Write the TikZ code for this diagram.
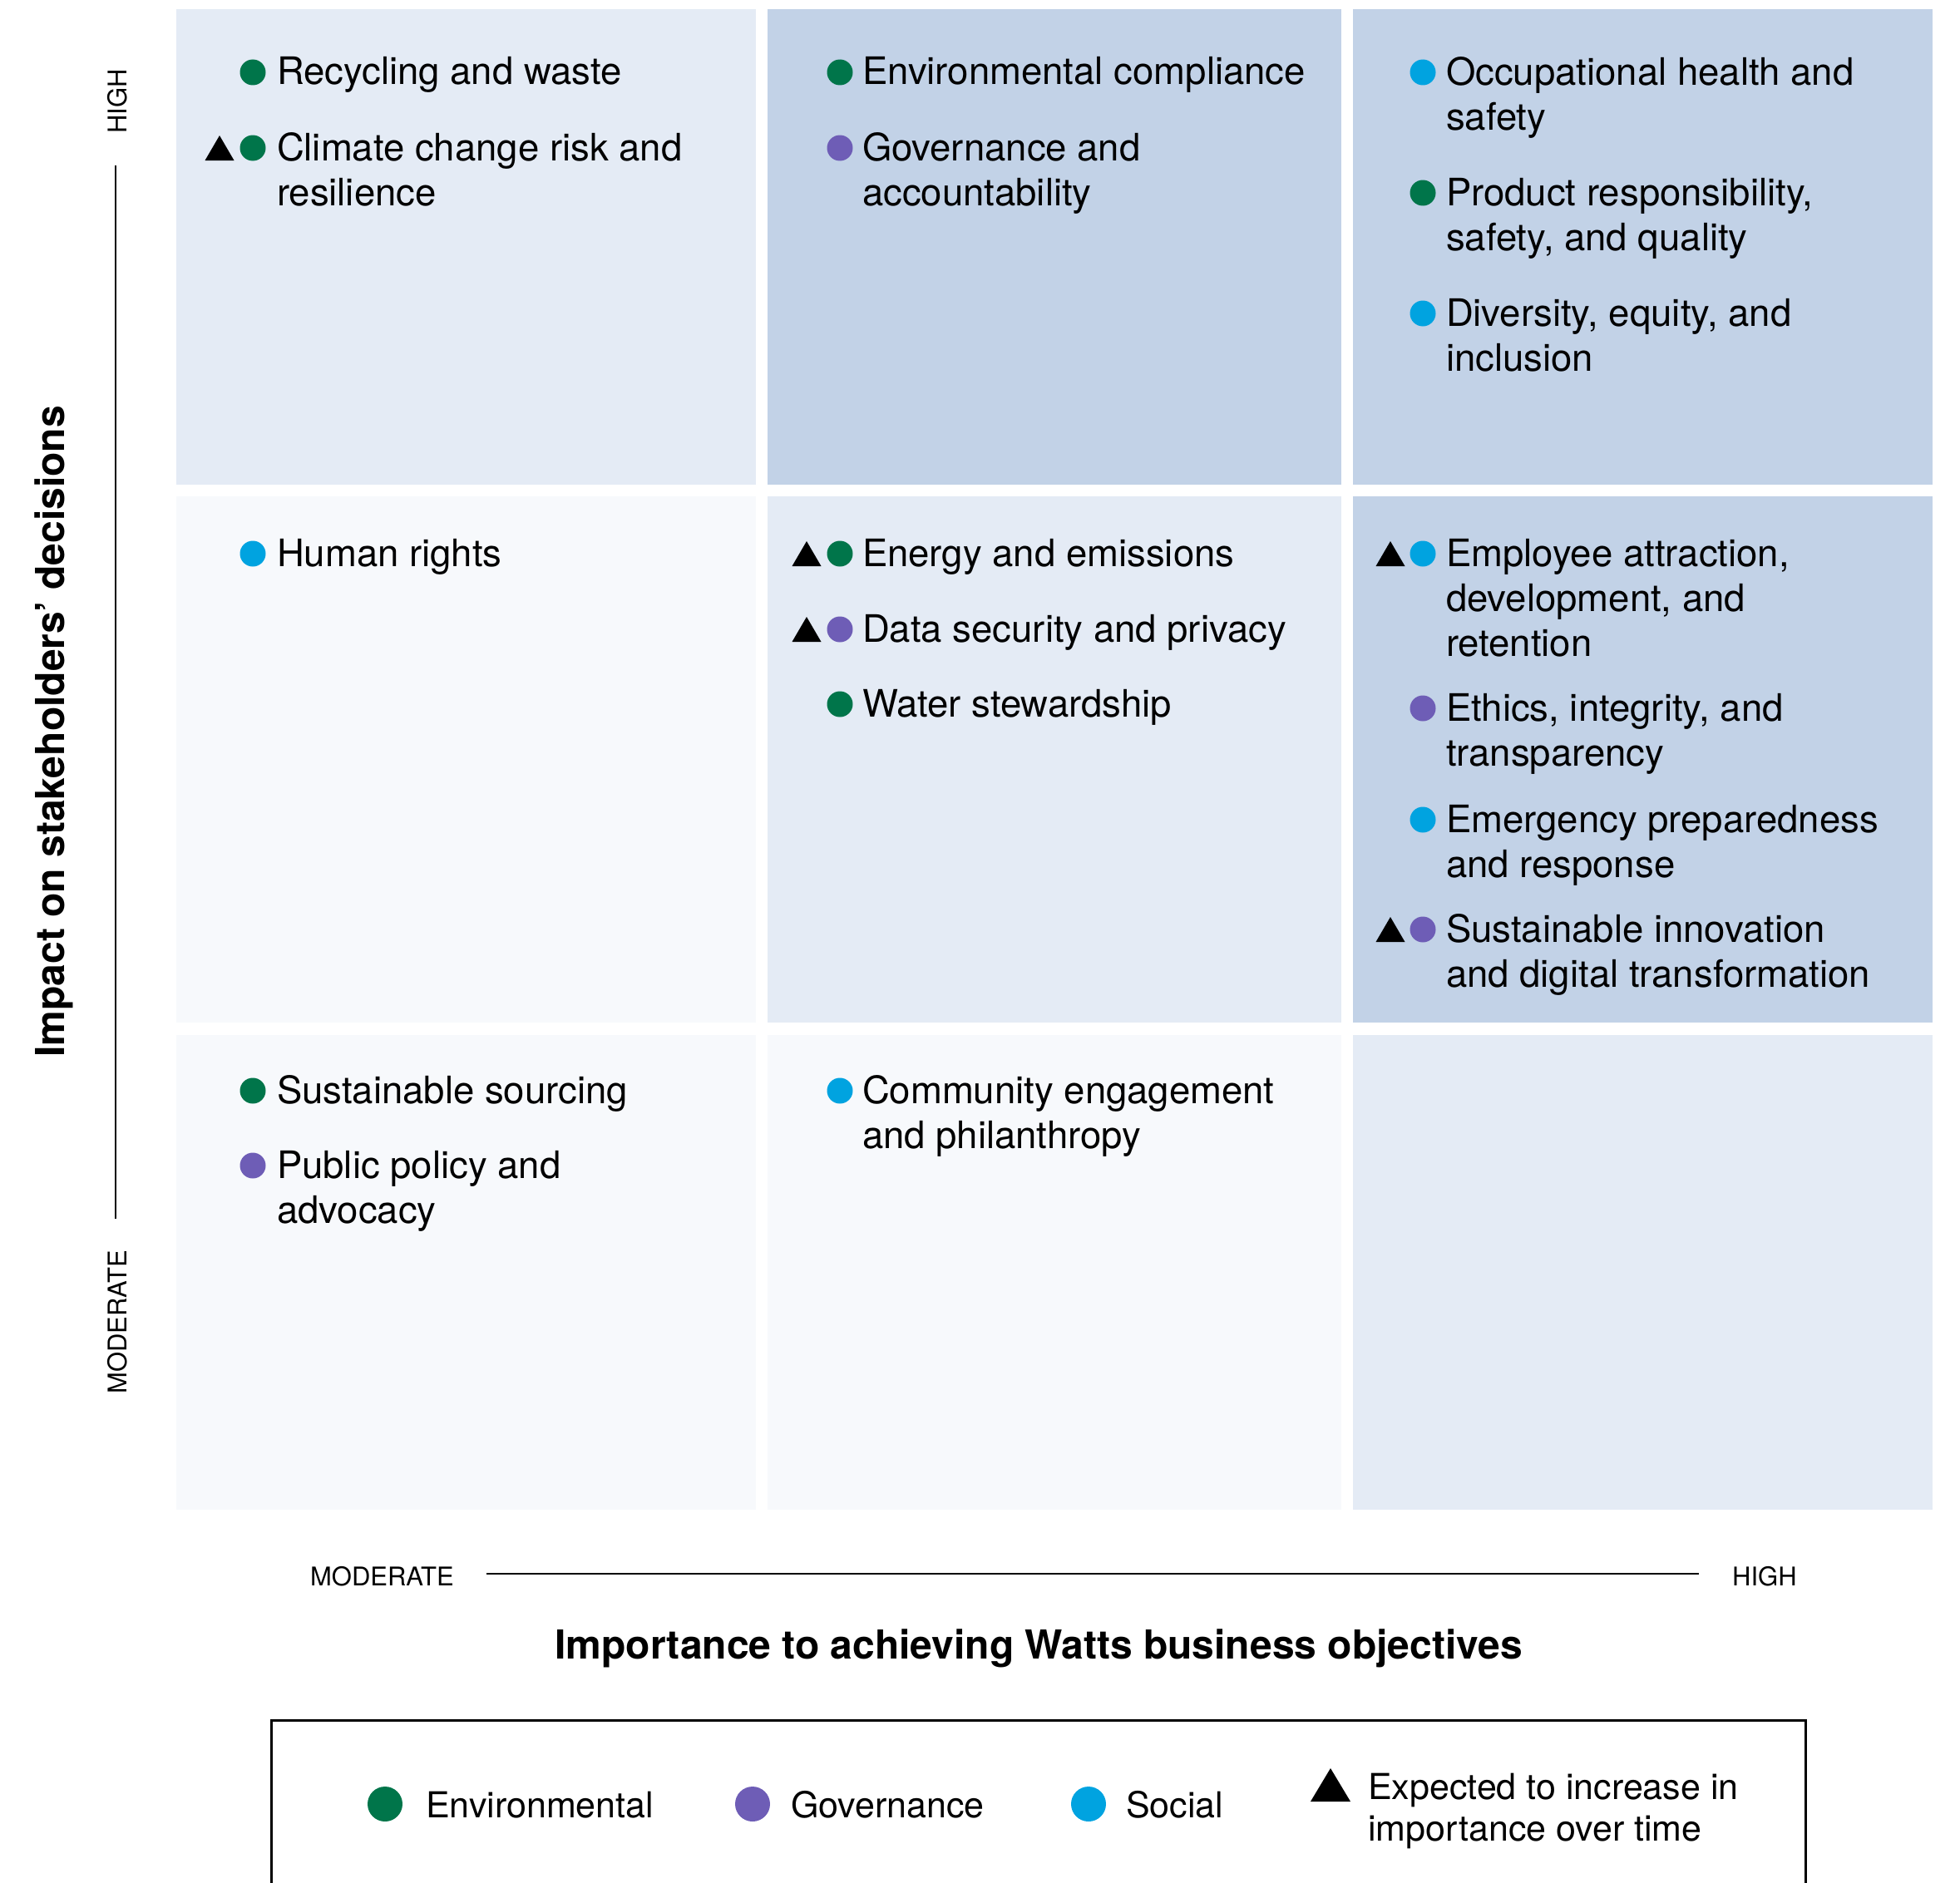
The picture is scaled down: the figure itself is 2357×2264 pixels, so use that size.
\documentclass[tikz,border=0pt]{standalone}
\usepackage{fontspec}
\setmainfont{TeX Gyre Heros}
\usetikzlibrary{shapes.geometric}
\definecolor{cellA}{HTML}{F7F9FC}
\definecolor{cellB}{HTML}{E4EBF5}
\definecolor{cellC}{HTML}{C2D2E7}
\definecolor{envc}{HTML}{00754A}
\definecolor{govc}{HTML}{6E5DB6}
\definecolor{socc}{HTML}{00A3E0}
\newcommand\myItemFont{\fontsize{45.5}{54}\selectfont}
\newcommand\myLegFont{\fontsize{43}{50}\selectfont}
\newcommand\myAxFont{\fontsize{31}{36}\selectfont}
\newcommand\myTitFont{\fontsize{48}{56}\selectfont\bfseries}
\tikzset{
  cell/.style={inner sep=0, outer sep=0, anchor=north west},
  item/.style={anchor=base west, inner sep=0, outer sep=0, font=\myItemFont, align=left},
  dotbase/.style={circle, inner sep=0, outer sep=0, minimum size=31pt},
  dotE/.style={dotbase, fill=envc},
  dotG/.style={dotbase, fill=govc},
  dotS/.style={dotbase, fill=socc},
  legdot/.style={circle, inner sep=0, outer sep=0, minimum size=42pt},
  legtext/.style={anchor=base west, inner sep=0, font=\myLegFont, align=left},
  axlabel/.style={anchor=base, inner sep=0, font=\myAxFont},
  axline/.style={line width=2.5pt},
  uptri/.pic={\fill (-17.5,0) -- (17.5,0) -- (0,-30) -- cycle;},
  bigtri/.pic={\fill (-24,0) -- (24,0) -- (0,-40) -- cycle;}
}
\begin{document}
\begin{tikzpicture}[x=1pt,y=-1pt]
\useasboundingbox (0,0) rectangle (2357,2264);
% cells
\node[cell, fill=cellB, minimum width=697pt, minimum height=572pt] (c11) at (212,11) {};
\node[cell, fill=cellC, minimum width=690pt, minimum height=572pt] (c12) at (923,11) {};
\node[cell, fill=cellC, minimum width=697pt, minimum height=572pt] (c13) at (1627,11) {};
\node[cell, fill=cellA, minimum width=697pt, minimum height=633pt] (c21) at (212,597) {};
\node[cell, fill=cellB, minimum width=690pt, minimum height=633pt] (c22) at (923,597) {};
\node[cell, fill=cellC, minimum width=697pt, minimum height=633pt] (c23) at (1627,597) {};
\node[cell, fill=cellA, minimum width=697pt, minimum height=571pt] (c31) at (212,1245) {};
\node[cell, fill=cellA, minimum width=690pt, minimum height=571pt] (c32) at (923,1245) {};
\node[cell, fill=cellB, minimum width=697pt, minimum height=571pt] (c33) at (1627,1245) {};

% column 1 (multi-line nodes are placed by the baseline of their last line)
\node[dotE] (d1) at (304,87) {};
\node[item] (t1) at (333,102) {Recycling and waste};
\pic at (264,193) {uptri};
\node[dotE] (d2) at (304,178) {};
\node[item] (t2) at (333,247) {Climate change risk and\\resilience};
\node[dotS] (d3) at (304,666) {};
\node[item] (t3) at (333,681) {Human rights};
\node[dotE] (d4) at (304,1312) {};
\node[item] (t4) at (333,1327) {Sustainable sourcing};
\node[dotG] (d5) at (304,1402) {};
\node[item] (t5) at (333,1471) {Public policy and\\advocacy};

% column 2
\node[dotE] (d6) at (1010,87) {};
\node[item] (t6) at (1037,102) {Environmental compliance};
\node[dotG] (d7) at (1010,178) {};
\node[item] (t7) at (1037,247) {Governance and\\accountability};
\pic at (970,681) {uptri};
\node[dotE] (d8) at (1010,666) {};
\node[item] (t8) at (1037,681) {Energy and emissions};
\pic at (970,772) {uptri};
\node[dotG] (d9) at (1010,757) {};
\node[item] (t9) at (1037,772) {Data security and privacy};
\node[dotE] (d10) at (1010,847) {};
\node[item] (t10) at (1037,862) {Water stewardship};
\node[dotS] (d11) at (1010,1312) {};
\node[item] (t11) at (1037,1381) {Community engagement\\and philanthropy};

% column 3
\node[dotS] (d12) at (1711,87) {};
\node[item] (t12) at (1739,156) {Occupational health and\\safety};
\node[dotE] (d13) at (1711,232) {};
\node[item] (t13) at (1739,301) {Product responsibility,\\safety, and quality};
\node[dotS] (d14) at (1711,377) {};
\node[item] (t14) at (1739,446) {Diversity, equity, and\\inclusion};
\pic at (1672,681) {uptri};
\node[dotS] (d15) at (1711,666) {};
\node[item] (t15) at (1739,789) {Employee attraction,\\development, and\\retention};
\node[dotG] (d16) at (1711,852) {};
\node[item] (t16) at (1739,921) {Ethics, integrity, and\\transparency};
\node[dotS] (d17) at (1711,986) {};
\node[item] (t17) at (1739,1055) {Emergency preparedness\\and response};
\pic at (1672,1133) {uptri};
\node[dotG] (d18) at (1711,1118) {};
\node[item] (t18) at (1739,1187) {Sustainable innovation\\and digital transformation};

% vertical axis
\node[axlabel, rotate=90] (yhigh) at (152,122) {HIGH};
\node[axlabel, rotate=90] (ymod) at (152,1590) {MODERATE};
\coordinate (ytop) at (139,199);
\coordinate (ybot) at (139,1466);
\draw[axline] (ytop) -- (ybot);
\node[anchor=base, rotate=90, inner sep=0, font=\myTitFont] (ytitle) at (77,880) {Impact on stakeholders’ decisions};

% horizontal axis
\node[axlabel, anchor=base east] (xmod) at (546,1907) {MODERATE};
\node[axlabel, anchor=base west] (xhigh) at (2083,1907) {HIGH};
\coordinate (xl) at (585,1893);
\coordinate (xr) at (2043,1893);
\draw[axline] (xl) -- (xr);
\node[anchor=base, inner sep=0, font=\myTitFont] (xtitle) at (1249,1995) {Importance to achieving Watts business objectives};

% legend
\node[cell, draw=black, line width=3pt, minimum width=1845pt, minimum height=260pt] (legend) at (326,2069) {};
\node[legdot, fill=envc] (lg1) at (463,2170) {};
\node[legtext] (lt1) at (512,2186) {Environmental};
\node[legdot, fill=govc] (lg2) at (905,2170) {};
\node[legtext] (lt2) at (951,2186) {Governance};
\node[legdot, fill=socc] (lg3) at (1309,2170) {};
\node[legtext] (lt3) at (1354,2186) {Social};
\pic at (1600,2167) {bigtri};
\node[legtext] (lt4) at (1645,2214) {Expected to increase in\\importance over time};
\end{tikzpicture}
\end{document}
